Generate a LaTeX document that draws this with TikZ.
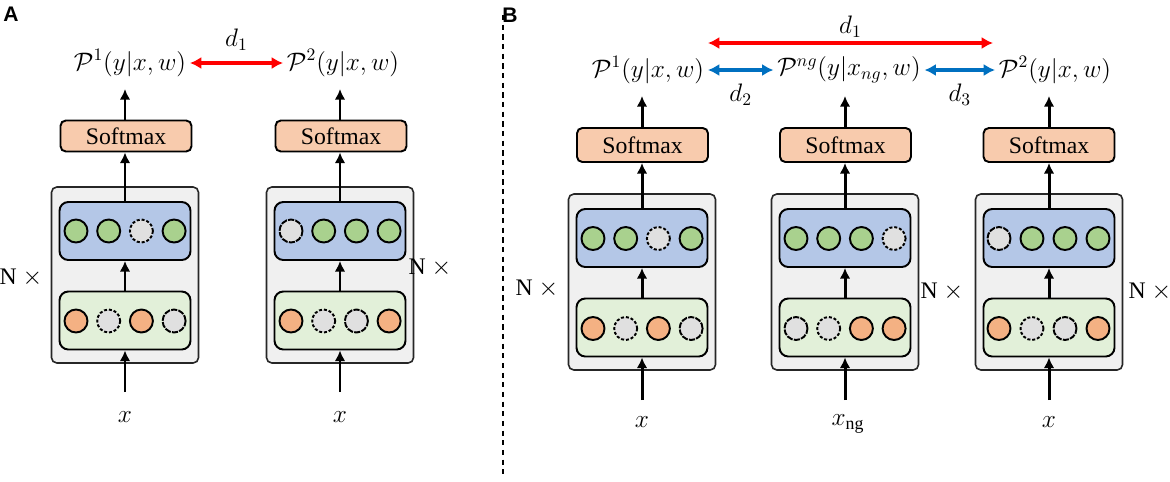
\documentclass[tikz,border=0pt]{standalone}
\usepackage{fontspec}
\setmainfont{Liberation Serif}
\setsansfont{Liberation Sans}
\usetikzlibrary{arrows.meta}

\definecolor{boxgray}{HTML}{F0F0F0}
\definecolor{hidblue}{HTML}{B4C7E7}
\definecolor{embgreen}{HTML}{E2F0D9}
\definecolor{softpeach}{HTML}{F8CBAD}
\definecolor{unitgreen}{HTML}{A9D18E}
\definecolor{unitorange}{HTML}{F4B183}
\definecolor{unitgray}{HTML}{E0E0E0}
\definecolor{distred}{HTML}{FF0000}
\definecolor{distblue}{HTML}{0070C0}

\tikzset{
  outerbox/.style={draw=black!85, fill=boxgray, rounded corners=3pt, line width=0.9pt,
    minimum width=2.94cm, minimum height=3.52cm},
  hidbox/.style={draw=black, fill=hidblue, rounded corners=5pt, line width=1.1pt,
    minimum width=2.62cm, minimum height=1.16cm},
  embbox/.style={draw=black, fill=embgreen, rounded corners=5pt, line width=1.1pt,
    minimum width=2.62cm, minimum height=1.16cm},
  softbox/.style={draw=black, fill=softpeach, rounded corners=3pt, line width=1.1pt,
    minimum width=2.62cm, minimum height=0.62cm, inner sep=0pt, font=\fontsize{13.5}{15}\selectfont},
  unit/.style={circle, draw=black, line width=1.1pt, minimum size=0.46cm, inner sep=0pt},
  gnode/.style={unit, fill=unitgreen},
  onode/.style={unit, fill=unitorange},
  dnode/.style={unit, fill=unitgray, dash pattern=on 1.7pt off 1.1pt},
  mnode/.style={unit, fill=unitgray, dash pattern=on 3.5pt off 0.7pt},
  plabel/.style={inner sep=2pt, font=\fontsize{14.5}{16}\selectfont},
  inlabel/.style={inner sep=1pt, font=\fontsize{14.5}{16}\selectfont},
  nlabel/.style={inner sep=0pt, font=\fontsize{13.5}{15}\selectfont},
  dlabel/.style={inner sep=1pt, text=black, font=\fontsize{14.5}{16}\selectfont},
  panel/.style={inner sep=0pt, font=\sffamily\bfseries\fontsize{12}{14}\selectfont},
  flow/.style={line width=1.7pt, -{Latex[length=6pt,width=6pt]}},
  distr/.style={line width=2pt, distred, {Latex[length=6.5pt,width=7pt]}-{Latex[length=6.5pt,width=7pt]}},
  distb/.style={line width=2pt, distblue, {Latex[length=6.5pt,width=7pt]}-{Latex[length=6.5pt,width=7pt]}},
}

\begin{document}
\begin{tikzpicture}[x=0.02cm, y=-0.02cm]
\useasboundingbox (0,0) rectangle (1170,481);

% Panel A
\node[panel] (pa) at (11,14) {A};

% A, first column
\node[outerbox] (a1box) at (125,275) {};
\node[hidbox] (a1hid) at (125,231) {};
\node[embbox] (a1emb) at (125,320.5) {};
\foreach \s [count=\i] in {gnode,gnode,dnode,gnode}
  \node[\s] (a1h\i) at ({125-49+(\i-1)*32.7},231) {};
\foreach \s [count=\i] in {onode,dnode,onode,mnode}
  \node[\s] (a1e\i) at ({125-49+(\i-1)*32.7},321) {};
\node[softbox] (a1soft) at (126,136) {Softmax};
\node[plabel] (a1p) at (130,63) {$\mathcal{P}^1(y|x,w)$};
\node[inlabel] (a1x) at (125,417) {$x$};
\node[nlabel] (a1n) at (21,278) {N $\times$};
\coordinate (a1in) at (125,392);
\coordinate (a1out) at (125,89);
\draw[flow] (a1in) -- (a1emb);
\draw[flow] (a1emb) -- (a1hid);
\draw[flow] (a1hid) -- (a1hid |- a1soft.south);
\draw[flow] (a1soft.north -| a1out) -- (a1out);

% A, second column
\node[outerbox] (a2box) at (340,275) {};
\node[hidbox] (a2hid) at (340,231) {};
\node[embbox] (a2emb) at (340,320.5) {};
\foreach \s [count=\i] in {mnode,gnode,gnode,gnode}
  \node[\s] (a2h\i) at ({340-49+(\i-1)*32.7},231) {};
\foreach \s [count=\i] in {onode,dnode,mnode,onode}
  \node[\s] (a2e\i) at ({340-49+(\i-1)*32.7},321) {};
\node[softbox] (a2soft) at (341,136) {Softmax};
\node[plabel] (a2p) at (343,63) {$\mathcal{P}^2(y|x,w)$};
\node[inlabel] (a2x) at (340,417) {$x$};
\node[nlabel] (a2n) at (430,268) {N $\times$};
\coordinate (a2in) at (340,392);
\coordinate (a2out) at (340,89);
\draw[flow] (a2in) -- (a2emb);
\draw[flow] (a2emb) -- (a2hid);
\draw[flow] (a2hid) -- (a2hid |- a2soft.south);
\draw[flow] (a2soft.north -| a2out) -- (a2out);

% distance between the two outputs
\draw[distr] (a1p) -- node[dlabel, above=5pt] {$d_1$} (a2p);

% divider
\draw[line width=0.6pt, dash pattern=on 3pt off 2.5pt] (503,15) -- (503,475);

% Panel B
\node[panel] (pb) at (510,15) {B};

% B, first column
\node[outerbox] (b1box) at (642,282) {};
\node[hidbox] (b1hid) at (642,238) {};
\node[embbox] (b1emb) at (642,327.5) {};
\foreach \s [count=\i] in {gnode,gnode,dnode,gnode}
  \node[\s] (b1h\i) at ({642-49+(\i-1)*32.7},238.5) {};
\foreach \s [count=\i] in {onode,dnode,onode,mnode}
  \node[\s] (b1e\i) at ({642-49+(\i-1)*32.7},328.5) {};
\node[softbox, minimum height=0.68cm] (b1soft) at (642.5,145) {Softmax};
\node[plabel] (b1p) at (648,70) {$\mathcal{P}^1(y|x,w)$};
\node[inlabel] (b1x) at (642,422) {$x$};
\node[nlabel] (b1n) at (537,289) {N $\times$};
\coordinate (b1in) at (642,400);
\coordinate (b1out) at (642,96);
\draw[flow] (b1in) -- (b1emb);
\draw[flow] (b1emb) -- (b1hid);
\draw[flow] (b1hid) -- (b1hid |- b1soft.south);
\draw[flow] (b1soft.north -| b1out) -- (b1out);

% B, second column (negative input)
\node[outerbox] (b2box) at (845,282) {};
\node[hidbox] (b2hid) at (845,238) {};
\node[embbox] (b2emb) at (845,327.5) {};
\foreach \s [count=\i] in {gnode,gnode,gnode,dnode}
  \node[\s] (b2h\i) at ({845-49+(\i-1)*32.7},238.5) {};
\foreach \s [count=\i] in {mnode,dnode,onode,onode}
  \node[\s] (b2e\i) at ({845-49+(\i-1)*32.7},328.5) {};
\node[softbox, minimum height=0.68cm] (b2soft) at (845.5,145) {Softmax};
\node[plabel] (b2p) at (849,70) {$\mathcal{P}^{ng}\bigl(y|x_{ng},w\bigr)$};
\node[inlabel] (b2x) at (848,424) {$x_{\mathrm{ng}}$};
\node[nlabel] (b2n) at (942,292) {N $\times$};
\coordinate (b2in) at (845,400);
\coordinate (b2out) at (845,96);
\draw[flow] (b2in) -- (b2emb);
\draw[flow] (b2emb) -- (b2hid);
\draw[flow] (b2hid) -- (b2hid |- b2soft.south);
\draw[flow] (b2soft.north -| b2out) -- (b2out);

% B, third column
\node[outerbox] (b3box) at (1049,282) {};
\node[hidbox] (b3hid) at (1049,238) {};
\node[embbox] (b3emb) at (1049,327.5) {};
\foreach \s [count=\i] in {mnode,gnode,gnode,gnode}
  \node[\s] (b3h\i) at ({1049-50+(\i-1)*33},238.5) {};
\foreach \s [count=\i] in {onode,dnode,mnode,onode}
  \node[\s] (b3e\i) at ({1049-50+(\i-1)*33},328.5) {};
\node[softbox, minimum height=0.68cm] (b3soft) at (1049,145) {Softmax};
\node[plabel] (b3p) at (1055,70) {$\mathcal{P}^2(y|x,w)$};
\node[inlabel] (b3x) at (1049,422) {$x$};
\node[nlabel] (b3n) at (1150,292) {N $\times$};
\coordinate (b3in) at (1049,400);
\coordinate (b3out) at (1049,96);
\draw[flow] (b3in) -- (b3emb);
\draw[flow] (b3emb) -- (b3hid);
\draw[flow] (b3hid) -- (b3hid |- b3soft.south);
\draw[flow] (b3soft.north -| b3out) -- (b3out);

% distances between the outputs
\coordinate (bd1l) at (708,43);
\coordinate (bd1r) at (993,43);
\draw[distr] (bd1l) -- node[dlabel, above=1pt] {$d_1$} (bd1r);
\draw[distb] (b1p) -- node[dlabel, below=6pt] {$d_2$} (b2p);
\draw[distb] (b2p) -- node[dlabel, below=6pt] {$d_3$} (b3p);
\end{tikzpicture}
\end{document}
